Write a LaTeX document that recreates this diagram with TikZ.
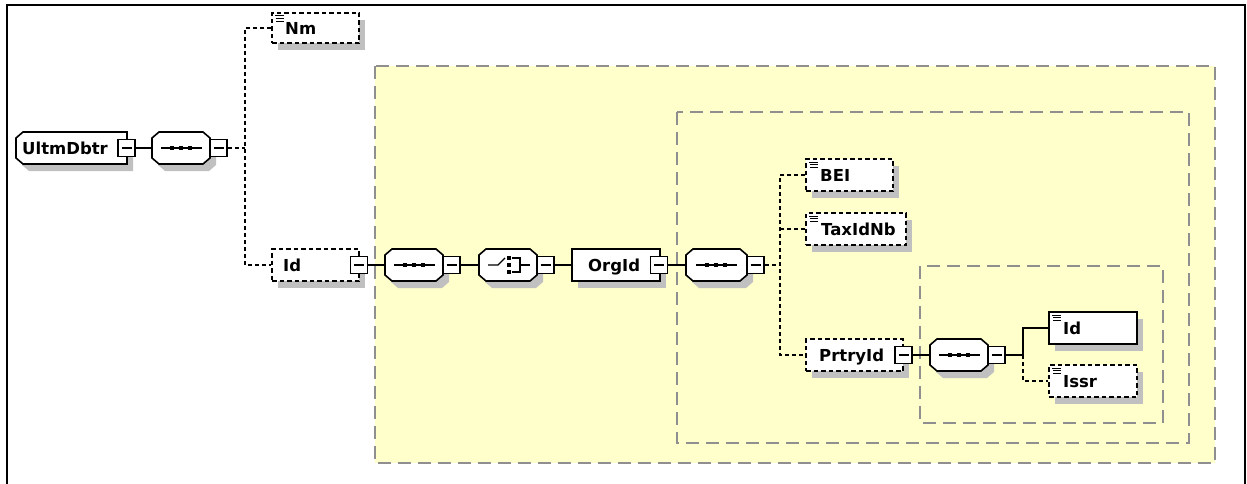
\documentclass[tikz,border=0pt]{standalone}
\usepackage{fontspec}
\setmainfont{DejaVu Sans}
\usetikzlibrary{fit,calc}
\definecolor{shadowc}{HTML}{C0C0C0}
\definecolor{yel}{HTML}{FFFFCC}
\definecolor{grp}{HTML}{8F8F8F}
\tikzset{
 conn/.style={line width=1.5pt},
 dconn/.style={line width=1.4pt, dash pattern=on 4pt off 3pt},
 elemsolid/.style={draw, fill=white, line width=1.6pt},
 elemdash/.style={draw, fill=white, line width=1.5pt, dash pattern=on 4.5pt off 3pt},
 octstyle/.style={draw, fill=white, line width=1.6pt},
 shadowstyle/.style={fill=shadowc},
 grpbox/.style={draw=grp, line width=1.7pt, dash pattern=on 13pt off 7pt},
 lbl/.style={font=\fontsize{16.5}{16.5}\selectfont\bfseries, inner sep=0pt, anchor=base west},
 minusbox/.style={draw, fill=white, line width=1.5pt, minimum size=17pt, inner sep=0pt,
   path picture={\draw[line width=1.4pt] ([xshift=3.5pt]path picture bounding box.west) -- ([xshift=-3.5pt]path picture bounding box.east);}},
}
% octagon path: style, x1, y1, x2, y2
\newcommand\octshape[5]{\path[#1] (#2+7,#3) -- (#4-7,#3) -- (#4,#3+6) -- (#4,#5-6) -- (#4-7,#5) -- (#2+7,#5) -- (#2,#5-6) -- (#2,#3+6) -- cycle;}
% compositor: name, x1, y1, x2, y2
\newcommand\compositor[5]{%
 \octshape{shadowstyle}{#2+6}{#3+7}{#4+6}{#5+7}
 \octshape{octstyle}{#2}{#3}{#4}{#5}
 \coordinate (#1-a) at (#2,#3); \coordinate (#1-b) at (#4,#5);
 \node[fit=(#1-a)(#1-b), inner sep=0pt] (#1) {};}
% element box: name, style, x1, y1, x2, y2
\newcommand\elembox[6]{%
 \fill[shadowc] (#3+6,#4+7) rectangle (#5+6,#6+7);
 \coordinate (#1-a) at (#3,#4); \coordinate (#1-b) at (#5,#6);
 \node[fit=(#1-a)(#1-b), inner sep=0pt, #2] (#1) {};}
% documentation icon at top-left corner x,y
\newcommand\docicon[2]{\draw[line width=1pt] (#1+3,#2+3) -- ++(9,0) (#1+4,#2+5.7) -- ++(8,0) (#1+4,#2+8.4) -- ++(8,0);}
% sequence symbol centred at xc,yc
\newcommand\seqsym[2]{%
 \draw[line width=1.3pt] (#1-20,#2) -- (#1+21,#2);
 \fill (#1-11,#2-2) rectangle ++(4,4);
 \fill (#1-2,#2-2) rectangle ++(4,4);
 \fill (#1+7,#2-2) rectangle ++(4,4);}
\begin{document}
\begin{tikzpicture}[x=1pt,y=-1pt]
\useasboundingbox (0,0) rectangle (1247,484);
\fill[white] (0,0) rectangle (1247,484);
\draw[line width=2.2pt] (7,484) -- (7,5) -- (1245,5) -- (1245,484);

% group boxes
\path[grpbox, fill=yel] (375,66) rectangle (1215,463);
\path[grpbox] (677,112) rectangle (1189,443);
\path[grpbox] (920,266) rectangle (1163,423);

% root element UltmDbtr
\fill[shadowc] (16+6+7,132+7) -- (127+6,132+7) -- (127+6,164+7) -- (16+6+7,164+7) -- (16+6,164+7-6) -- (16+6,132+7+6) -- cycle;
\draw[octstyle] (16+7,132) -- (127,132) -- (127,164) -- (16+7,164) -- (16,164-6) -- (16,132+6) -- cycle;
\coordinate (ultm-a) at (16,132); \coordinate (ultm-b) at (127,164);
\node[fit=(ultm-a)(ultm-b), inner sep=0pt] (ultm) {};
\node[lbl] (ultm-t) at (22,154) {UltmDbtr};
\node[minusbox] (ultm-m) at (126.5,148) {};

% sequence 1
\compositor{c1}{152}{132}{210}{164}
\seqsym{181}{148}
\node[minusbox] (c1-m) at (218.5,148) {};

% Nm
\elembox{nm}{elemdash}{272}{13}{359}{43}
\docicon{272}{13}
\node[lbl] (nm-t) at (285,34.5) {Nm};

% Id (outer)
\elembox{id1}{elemdash}{272}{249}{359}{281}
\node[lbl] (id1-t) at (283,271.5) {Id};
\node[minusbox] (id1-m) at (359,265) {};

% sequence 2
\compositor{c2}{385}{249}{443}{281}
\seqsym{414}{265}
\node[minusbox] (c2-m) at (451.5,265) {};

% choice
\compositor{ch}{479}{249}{537}{281}
\draw[line width=1.3pt] (488,265) -- (498,265) -- (505,258);
\fill (507.2,256.3) rectangle ++(3.6,3.6);
\fill (507.2,263.2) rectangle ++(3.6,3.6);
\fill (507.2,270.1) rectangle ++(3.6,3.6);
\draw[line width=1.3pt] (512,258) -- (520,258) -- (520,272) -- (512,272) (520,265) -- (530,265);
\node[minusbox] (ch-m) at (545.5,265) {};

% OrgId
\elembox{orgid}{elemsolid}{572}{249}{660}{281}
\node[lbl] (orgid-t) at (588,271.5) {OrgId};
\node[minusbox] (orgid-m) at (659,265) {};

% sequence 4
\compositor{c4}{686}{249}{747}{281}
\seqsym{716}{265}
\node[minusbox] (c4-m) at (755.5,265) {};

% BEI
\elembox{bei}{elemdash}{806}{159}{893}{191}
\docicon{806}{159}
\node[lbl] (bei-t) at (820,181.5) {BEI};

% TaxIdNb
\elembox{tax}{elemdash}{806}{213}{906}{245}
\docicon{806}{213}
\node[lbl] (tax-t) at (821,235.5) {TaxIdNb};

% PrtryId
\elembox{prtry}{elemdash}{806}{339}{903}{371}
\node[lbl] (prtry-t) at (819,361.5) {PrtryId};
\node[minusbox] (prtry-m) at (903.5,355) {};

% sequence 5
\compositor{c5}{930}{339}{988}{371}
\seqsym{959}{355}
\node[minusbox] (c5-m) at (996.5,355) {};

% Id (inner)
\elembox{id2}{elemsolid}{1049}{312}{1137}{344}
\docicon{1049}{312}
\node[lbl] (id2-t) at (1063,334.5) {Id};

% Issr
\elembox{issr}{elemdash}{1049}{365}{1137}{397}
\docicon{1049}{365}
\node[lbl] (issr-t) at (1063,387.5) {Issr};

% connectors
\coordinate (j1) at (245,148);
\coordinate (j2) at (780,265);
\coordinate (j3) at (1023,355);
\draw[conn] (ultm-m.east) -- (c1.west);
\draw[dconn] (c1-m.east) -- (j1);
\draw[dconn] (nm.west) -| (j1) |- (id1.west);
\draw[conn] (id1-m.east) -- (c2.west);
\draw[conn] (c2-m.east) -- (ch.west);
\draw[conn] (ch-m.east) -- (orgid.west);
\draw[conn] (orgid-m.east) -- (c4.west);
\draw[dconn] (c4-m.east) -- (j2);
\draw[dconn] (bei.west) -| (j2) |- (prtry.west);
\draw[dconn] (tax.west) -- (tax.west -| j2);
\draw[conn] (prtry-m.east) -- (c5.west);
\draw[conn] (c5-m.east) -- (j3) |- (id2.west);
\draw[dconn] (j3) |- (issr.west);
\end{tikzpicture}
\end{document}
